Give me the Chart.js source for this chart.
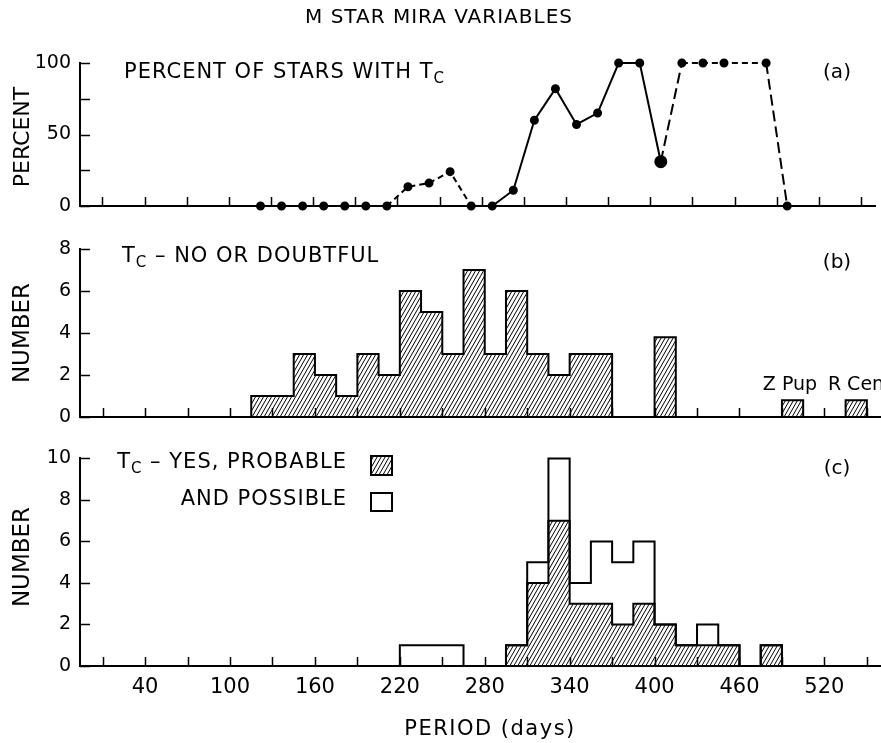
<!DOCTYPE html>
<html>
<head>
<meta charset="utf-8">
<title>M Star Mira Variables</title>
<script src="https://cdn.jsdelivr.net/npm/chart.js@4.4.1/dist/chart.umd.min.js"></script>
<style>
  html, body { margin: 0; padding: 0; background: #fff; }
  canvas { position: absolute; left: 0; }
  #chartA { top: 0; }
  #chartB { top: 228px; }
  #chartC { top: 438px; }
</style>
</head>
<body>
<canvas id="chartA" width="881" height="228"></canvas>
<canvas id="chartB" width="881" height="210"></canvas>
<canvas id="chartC" width="881" height="305"></canvas>
<script>
// Period axis (days)
const tickPeriods = [10, 40, 70, 100, 130, 160, 190, 220, 250, 280, 310, 340, 370, 400, 430, 460, 490, 520, 550];
const labelledPeriods = [40, 100, 160, 220, 280, 340, 400, 460, 520];

// (a) percent of stars with Tc, per 15-day bin
const pctPeriods = [122.5, 137.5, 152.5, 167.5, 182.5, 197.5, 212.5, 227.5, 242.5, 257.5, 272.5, 287.5,
                    302.5, 317.5, 332.5, 347.5, 362.5, 377.5, 392.5, 407.5, 422.5, 437.5, 452.5, 482.5, 497.5];
const pctValues = [0, 0, 0, 0, 0, 0, 0, 13.5, 16, 24, 0, 0,
                   11, 60, 82, 57, 65, 100, 100, 31, 100, 100, 100, 100, 0];
// line style of each segment (from point i to i+1)
const pctSegments = ['solid', 'solid', 'solid', 'solid', 'solid', 'solid', 'short', 'short', 'short', 'short', 'solid', 'solid',
                     'solid', 'solid', 'solid', 'solid', 'solid', 'solid', 'solid', 'long', 'short', 'short', 'short', 'long'];

// Histogram bins (start of each 15-day bin)
const binStarts = [100, 115, 130, 145, 160, 175, 190, 205, 220, 235, 250, 265, 280, 295, 310, 325,
                   340, 355, 370, 385, 400, 415, 430, 445, 460, 475, 490, 505, 520, 535, 550];
// (b) Tc no or doubtful
const noCounts = [0, 1, 1, 3, 2, 1, 3, 2, 6, 5, 3, 7, 3, 6, 3, 2,
                  3, 3, 0, 0, 3.8, 0, 0, 0, 0, 0, 0.8, 0, 0, 0.8, 0];
// (c) Tc yes/probable (hatched) and possible (open, on top)
const probCounts = [0, 0, 0, 0, 0, 0, 0, 0, 0, 0, 0, 0, 0, 1, 4, 7,
                    3, 3, 2, 3, 2, 1, 1, 1, 0, 1, 0, 0, 0, 0, 0];
const possCounts = [0, 0, 0, 0, 0, 0, 0, 0, 1, 1, 1, 0, 0, 0, 1, 3,
                    1, 3, 3, 3, 0, 0, 1, 0, 0, 0, 0, 0, 0, 0, 0];

const FONT = '"DejaVu Sans", "Liberation Sans", sans-serif';
const DASHES = { solid: [], short: [6, 4], long: [11, 5] };

Chart.defaults.font.family = FONT;
Chart.defaults.color = '#000';

function makeHatch() {
    const c = document.createElement('canvas');
    c.width = 4; c.height = 7;
    const g = c.getContext('2d');
    g.strokeStyle = '#000';
    g.lineWidth = 1;
    g.beginPath();
    [-4, 0, 4].forEach(dx => {
        g.moveTo(dx - 1, 8.75);
        g.lineTo(dx + 5, -1.75);
    });
    g.stroke();
    return g.createPattern(c, 'repeat');
}
const hatch = makeHatch();

function drawNote(ctx, n, top) {
    ctx.save();
    ctx.fillStyle = '#000';
    ctx.strokeStyle = '#000';
    if (n.box) {
        if (n.box === 'hatch') {
            ctx.fillStyle = hatch;
            ctx.fillRect(n.x, n.y - top, n.w, n.h);
        }
        ctx.lineWidth = 2;
        ctx.strokeRect(n.x, n.y - top, n.w, n.h);
        ctx.restore();
        return;
    }
    const size = n.size || 20;
    ctx.textBaseline = 'middle';
    ctx.letterSpacing = (n.spacing || 0) + 'px';
    const parts = (Array.isArray(n.text) ? n.text : [n.text]).map(p => {
        const sub = p.startsWith('_');
        return { t: sub ? p.slice(1) : p, sub, font: (sub ? Math.round(size * 0.7) : size) + 'px ' + FONT };
    });
    let w = 0;
    parts.forEach(p => { ctx.font = p.font; p.w = ctx.measureText(p.t).width; w += p.w; });
    ctx.translate(n.x, n.y - top);
    if (n.rotate) ctx.rotate(-Math.PI / 2);
    let x = n.align === 'center' ? -w / 2 : (n.align === 'right' ? -w : 0);
    parts.forEach(p => {
        ctx.font = p.font;
        ctx.fillText(p.t, x, p.sub ? size * 0.3 : 0);
        x += p.w;
    });
    ctx.restore();
}

// texts, inward ticks
const panelPlugin = {
    id: 'panel',
    afterDatasetsDraw(chart, args, opts) {
        const { ctx, chartArea, scales: { x, y } } = chart;
        ctx.save();
        ctx.strokeStyle = '#000';
        ctx.lineWidth = 1.5;
        ctx.beginPath();
        tickPeriods.forEach(v => {
            const px = Math.round(x.getPixelForValue(v)) + 0.5;
            ctx.moveTo(px, chartArea.bottom);
            ctx.lineTo(px, chartArea.bottom - 9);
        });
        y.ticks.forEach(t => {
            const py = Math.round(y.getPixelForValue(t.value)) + 0.5;
            ctx.moveTo(chartArea.left, py);
            ctx.lineTo(chartArea.left + 10, py);
        });
        ctx.stroke();
        ctx.restore();
    },
    afterDraw(chart, args, opts) {
        (opts.notes || []).forEach(n => drawNote(chart.ctx, n, opts.top));
    }
};

function baseOptions(p) {
    return {
        responsive: false,
        animation: false,
        layout: { padding: { top: p.padTop, left: 0, right: 0, bottom: 0 } },
        plugins: {
            legend: { display: false },
            tooltip: { enabled: false },
            panel: { top: p.top, notes: p.notes }
        },
        scales: {
            x: {
                type: 'linear', min: -6, max: 560,
                afterBuildTicks: s => { s.ticks = tickPeriods.map(v => ({ value: v })); },
                afterFit: s => { s.height = p.xHeight; },
                grid: { display: true, drawOnChartArea: false, drawTicks: false },
                border: { display: true, color: '#000', width: 2 },
                ticks: {
                    display: !!p.xLabels, autoSkip: false, maxRotation: 0, padding: 9,
                    font: { size: 21 },
                    callback: v => labelledPeriods.includes(v) ? String(v) : ''
                }
            },
            y: {
                min: 0, max: p.yMax,
                afterFit: s => { s.width = 80; },
                grid: { display: true, drawOnChartArea: false, drawTicks: false },
                border: { display: true, color: '#000', width: 2 },
                ticks: {
                    stepSize: p.yStep, padding: 9, font: { size: 19 },
                    callback: v => (v % p.yLabelStep === 0 ? String(v) : '')
                }
            }
        }
    };
}

function histData(counts) {
    return binStarts.map((b, i) => ({ x: b, y: counts[i] }));
}

// 'before': horizontal at the previous bin's height, then vertical at the bin edge
function histStyle(fillPattern) {
    return {
        stepped: 'before', pointRadius: 0, borderColor: '#000', borderWidth: 2,
        borderJoinStyle: 'miter', fill: fillPattern ? 'origin' : false,
        backgroundColor: fillPattern || 'transparent', clip: false
    };
}

// (a)
const bigDot = pctPeriods.indexOf(407.5);
new Chart(document.getElementById('chartA'), {
    type: 'line',
    data: {
        datasets: [{
            data: pctPeriods.map((x, i) => ({ x, y: pctValues[i] })),
            borderColor: '#000', borderWidth: 2,
            pointBackgroundColor: '#000', pointBorderColor: '#000',
            pointRadius: ctx => ctx.dataIndex === bigDot ? 5.5 : 3.5,
            segment: { borderDash: ctx => DASHES[pctSegments[ctx.p0DataIndex]] },
            clip: false
        }]
    },
    options: baseOptions({
        top: 0, padTop: 63, xHeight: 22, yMax: 100, yStep: 25, yLabelStep: 50,
        notes: [
            { text: 'M STAR MIRA VARIABLES', x: 439, y: 18, size: 20, spacing: 1, align: 'center' },
            { text: 'PERCENT', x: 23, y: 137, size: 22, align: 'center', rotate: true },
            { text: ['PERCENT OF STARS WITH T', '_C'], x: 124, y: 73, size: 21, spacing: 1 },
            { text: '(a)', x: 837, y: 73, size: 20, align: 'center' }
        ]
    }),
    plugins: [panelPlugin]
});

// (b)
new Chart(document.getElementById('chartB'), {
    type: 'line',
    data: { datasets: [Object.assign({ data: histData(noCounts) }, histStyle(hatch))] },
    options: baseOptions({
        top: 228, padTop: 21, xHeight: 21, yMax: 8, yStep: 1, yLabelStep: 2,
        notes: [
            { text: 'NUMBER', x: 23, y: 333, size: 23, align: 'center', rotate: true },
            { text: ['T', '_C', ' \u2013 NO OR DOUBTFUL'], x: 122, y: 257, size: 21, spacing: 1 },
            { text: '(b)', x: 837, y: 263, size: 20, align: 'center' },
            { text: 'Z Pup', x: 790, y: 385, size: 19, align: 'center' },
            { text: 'R Cen', x: 856, y: 385, size: 19, align: 'center' }
        ]
    }),
    plugins: [panelPlugin]
});

// (c)
const totalCounts = probCounts.map((v, i) => v + possCounts[i]);
new Chart(document.getElementById('chartC'), {
    type: 'line',
    data: {
        datasets: [
            Object.assign({ data: histData(probCounts) }, histStyle(hatch)),
            Object.assign({ data: histData(totalCounts) }, histStyle(null))
        ]
    },
    options: baseOptions({
        top: 438, padTop: 17, xHeight: 77, yMax: 10, yStep: 1, yLabelStep: 2, xLabels: true,
        notes: [
            { text: 'NUMBER', x: 23, y: 557, size: 23, align: 'center', rotate: true },
            { text: ['T', '_C', ' \u2013 YES, PROBABLE'], x: 347, y: 463, size: 21, spacing: 1, align: 'right' },
            { text: 'AND POSSIBLE', x: 347, y: 500, size: 21, spacing: 1, align: 'right' },
            { box: 'hatch', x: 371, y: 456, w: 21, h: 19 },
            { box: 'open', x: 371, y: 493, w: 21, h: 18 },
            { text: '(c)', x: 837, y: 469, size: 20, align: 'center' },
            { text: 'PERIOD (days)', x: 490, y: 730, size: 21, spacing: 1.5, align: 'center' }
        ]
    }),
    plugins: [panelPlugin]
});
</script>
</body>
</html>
